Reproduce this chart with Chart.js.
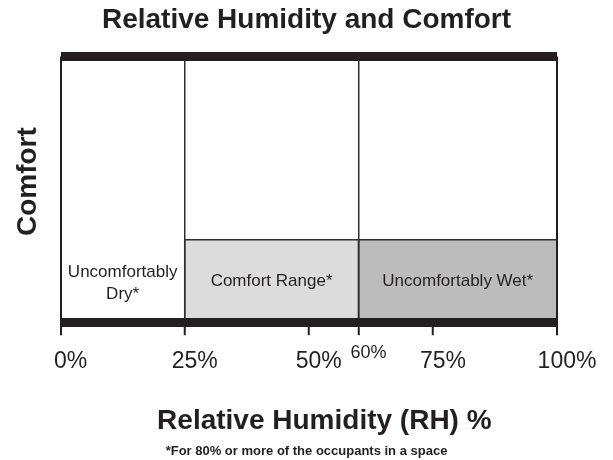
<!DOCTYPE html>
<html lang="en">
<head>
    <meta charset="UTF-8">
    <title>Relative Humidity and Comfort</title>
    <script src="https://cdn.jsdelivr.net/npm/chart.js"></script>
    <style>
        body { margin: 0; background: #fff; }
        canvas { display: block; }
    </style>
</head>
<body>
    <canvas id="rhChart" width="613" height="460"></canvas>

    <script>
        // Zones along the RH axis (percent)
        const zoneLabels = [['Uncomfortably', 'Dry*'], ['Comfort Range*'], ['Uncomfortably Wet*']];
        const zoneStart = [0, 25, 60];
        const zoneEnd = [25, 60, 100];
        const zoneComfort = [0, 31, 31];   // height of the shaded box (0 = no box)
        const zoneColors = ['#ffffff', '#dcdcdc', '#bcbcbc'];

        // Tick labels on the x axis
        const tickValues = [0, 25, 50, 60, 75, 100];
        const dividerValues = [25, 60];

        const ink = '#231f20';
        const font = '"Liberation Sans", Arial, sans-serif';

        // one filled rectangle per shaded zone
        const datasets = [];
        zoneStart.forEach((s, i) => {
            const h = zoneComfort[i];
            if (!h) return;
            datasets.push({
                type: 'line',
                data: [{x: s, y: 0}, {x: s, y: h}, {x: zoneEnd[i], y: h}, {x: zoneEnd[i], y: 0}],
                fill: 'origin',
                backgroundColor: zoneColors[i],
                borderColor: '#2e2e2e',
                borderWidth: 1.5,
                pointRadius: 0,
                tension: 0
            });
        });

        // write the zone names in the middle of each zone
        const zoneText = {
            id: 'zoneText',
            afterDatasetsDraw(chart) {
                const {ctx, scales: {x, y}} = chart;
                const boxH = Math.max(...zoneComfort);
                ctx.save();
                ctx.fillStyle = ink;
                ctx.font = '17px ' + font;
                ctx.textAlign = 'center';
                ctx.textBaseline = 'middle';
                zoneLabels.forEach((lines, i) => {
                    const cx = x.getPixelForValue((zoneStart[i] + zoneEnd[i]) / 2);
                    const cy = y.getPixelForValue((zoneComfort[i] || boxH) / 2) + (lines.length > 1 ? 2 : 0);
                    const lh = 22;
                    lines.forEach((t, j) => {
                        ctx.fillText(t, cx, cy + (j - (lines.length - 1) / 2) * lh);
                    });
                });
                ctx.restore();
            }
        };

        const ctx = document.getElementById('rhChart').getContext('2d');
        new Chart(ctx, {
            type: 'line',
            data: { datasets: datasets },
            options: {
                responsive: false,
                animation: false,
                devicePixelRatio: 1,
                layout: { padding: 0 },
                plugins: {
                    legend: { display: false },
                    tooltip: { enabled: false },
                    title: {
                        display: true,
                        text: 'Relative Humidity and Comfort',
                        color: ink,
                        font: { family: font, size: 28, weight: 'bold' },
                        padding: { top: 3, bottom: 20 }
                    },
                    subtitle: {
                        display: true,
                        position: 'bottom',
                        text: '*For 80% or more of the occupants in a space',
                        color: ink,
                        font: { family: font, size: 13, weight: 'bold' },
                        padding: { top: 5, bottom: 1 }
                    }
                },
                scales: {
                    x: {
                        type: 'linear',
                        min: 0,
                        max: 100,
                        afterBuildTicks: (scale) => {
                            scale.ticks = tickValues.map(v => ({ value: v }));
                        },
                        border: { display: false },
                        grid: {
                            z: 1,
                            color: (c) => {
                                const v = c.tick && c.tick.value;
                                if (v === 0 || v === 100) return ink;
                                if (dividerValues.includes(v)) return '#2e2e2e';
                                return 'rgba(0,0,0,0)';
                            },
                            lineWidth: (c) => {
                                const v = c.tick && c.tick.value;
                                if (v === 0 || v === 100) return 2;
                                return 1.5;
                            },
                            tickColor: ink,
                            tickWidth: 2,
                            tickLength: 13
                        },
                        ticks: {
                            color: ink,
                            padding: 13,
                            labelOffset: 10,
                            maxRotation: 0,
                            callback: (v) => v + '%',
                            font: (c) => {
                                const v = c.tick && c.tick.value;
                                if (v === 60) {
                                    return { family: font, size: 18, lineHeight: 0.55 };
                                }
                                return { family: font, size: 23 };
                            }
                        },
                        title: {
                            display: true,
                            text: '\u00a0\u00a0\u00a0\u00a0Relative Humidity (RH) %',
                            color: ink,
                            font: { family: font, size: 28, weight: 'bold' },
                            padding: { top: 16, bottom: 0 }
                        }
                    },
                    y: {
                        min: 0,
                        max: 100,
                        border: { display: false },
                        grid: {
                            z: 1,
                            color: ink,
                            lineWidth: 9,
                            drawTicks: false
                        },
                        ticks: { display: false, stepSize: 100 },
                        title: {
                            display: true,
                            text: '\u00a0\u00a0Comfort',
                            color: ink,
                            font: { family: font, size: 28, weight: 'bold' },
                            padding: { top: 11, bottom: 16 }
                        }
                    },
                    // empty right-hand axis, only keeps the margin on the right
                    yRight: {
                        position: 'right',
                        min: 0,
                        max: 100,
                        border: { display: false },
                        grid: { display: false, drawTicks: false },
                        ticks: { display: false },
                        afterFit: (s) => { s.width = 56; }
                    }
                }
            },
            plugins: [zoneText]
        });
    </script>
</body>
</html>
